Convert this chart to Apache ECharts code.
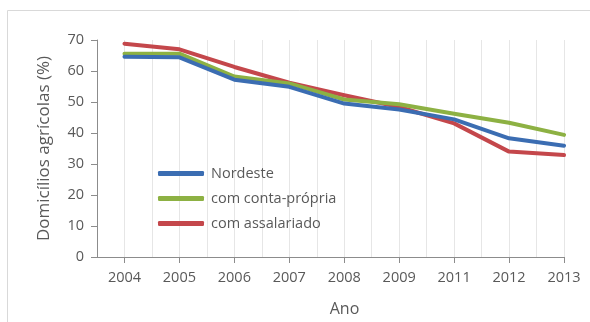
<!DOCTYPE html>
<html>
<head>
<meta charset="utf-8">
<script src="https://cdn.jsdelivr.net/npm/echarts@6/dist/echarts.min.js"></script>
<style>
  html, body { margin: 0; padding: 0; background: #fff; }
  #chart { width: 590px; height: 322px; }
</style>
</head>
<body>
<div id="chart"></div>
<script>
// Share of agricultural households in the Northeast, by year
const years = ['2004', '2005', '2006', '2007', '2008', '2009', '2011', '2012', '2013'];
const nordeste = [64.6, 64.4, 57.2, 54.9, 49.5, 47.6, 44.4, 38.3, 35.9];
const contaPropria = [65.6, 65.6, 58.2, 56.0, 50.8, 49.3, 46.2, 43.3, 39.4];
const assalariado = [68.8, 67.0, 61.3, 56.2, 52.2, 48.4, 43.1, 34.0, 32.9];
const yTicks = [0, 10, 20, 30, 40, 50, 60, 70];

const seriesNames = ['Nordeste', 'com conta-própria', 'com assalariado'];
const seriesColors = ['#3b6db2', '#8db143', '#c4474b'];

// Each year sits on every other slot so grid lines fall both on and between years
const slots = years.flatMap(y => ['', y]);
const spread = arr => arr.flatMap(v => [null, v]);
const isYearSlot = idx => idx % 2 === 1;

const font = '"Open Sans", "Noto Sans", sans-serif';
const textColor = '#595959';

const chart = echarts.init(document.getElementById('chart'));
chart.setOption({
  animation: false,
  grid: { left: 97, right: 26, top: 40, bottom: 65, containLabel: false, outerBoundsMode: 'none' },
  graphic: [{
    type: 'rect',
    shape: { x: 7.5, y: 10.5, width: 600, height: 330 },
    style: { fill: 'none', stroke: '#d9d9d9', lineWidth: 1 },
    silent: true
  }],
  legend: {
    orient: 'vertical',
    left: 153,
    top: 161,
    itemWidth: 46,
    itemHeight: 5,
    itemGap: 10,
    icon: 'roundRect',
    textStyle: { color: textColor, fontSize: 14.5, fontFamily: font, padding: [0, 0, 0, 2] },
    data: seriesNames
  },
  xAxis: {
    type: 'category',
    data: slots,
    boundaryGap: false,
    name: 'Ano',
    nameLocation: 'middle',
    nameGap: 44,
    nameTextStyle: { color: textColor, fontSize: 16, fontFamily: font, padding: [0, 0, 0, 28] },
    axisLine: { lineStyle: { color: '#8c8c8c', width: 1 } },
    axisTick: { show: true, inside: false, length: 6, interval: (idx) => isYearSlot(idx), lineStyle: { color: '#8c8c8c' } },
    axisLabel: { interval: (idx) => isYearSlot(idx), color: textColor, fontSize: 14.5, fontFamily: font, margin: 13 },
    splitLine: { show: true, interval: 0, lineStyle: { color: '#e6e6e6', width: 1 } }
  },
  yAxis: {
    type: 'value',
    min: yTicks[0],
    max: yTicks[yTicks.length - 1],
    interval: 10,
    name: 'Domicílios agrícolas (%)',
    nameLocation: 'middle',
    nameGap: 44,
    nameTextStyle: { color: textColor, fontSize: 17, fontFamily: font },
    axisLine: { show: true, lineStyle: { color: '#8c8c8c', width: 1 } },
    axisTick: { show: true, length: 6, lineStyle: { color: '#8c8c8c' } },
    axisLabel: { color: textColor, fontSize: 14.5, fontFamily: font, margin: 13 },
    splitLine: { show: false }
  },
  series: [
    { name: seriesNames[0], data: spread(nordeste) },
    { name: seriesNames[1], data: spread(contaPropria) },
    { name: seriesNames[2], data: spread(assalariado) }
  ].map((s, i) => ({
    ...s,
    type: 'line',
    connectNulls: true,
    showSymbol: false,
    symbol: 'none',
    color: seriesColors[i],
    lineStyle: { width: 4, color: seriesColors[i], cap: 'round', join: 'round' },
    z: 10 - i
  }))
});
</script>
</body>
</html>
